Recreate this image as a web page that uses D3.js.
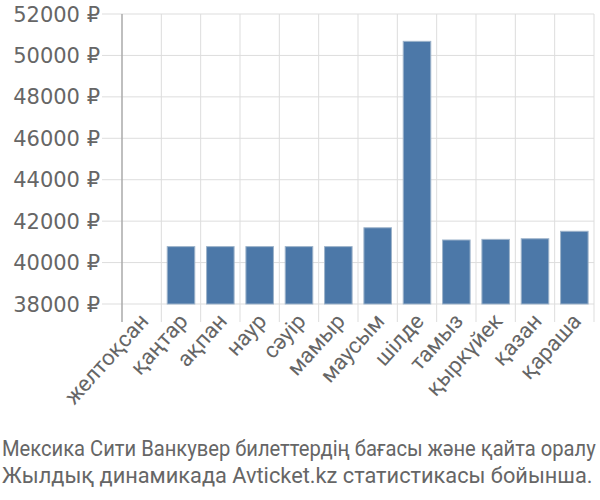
<!DOCTYPE html>
<html><head><meta charset="utf-8">
<script src="https://cdn.jsdelivr.net/npm/d3@7"></script>
<style>body{margin:0;background:#fff}svg{display:block}text{font-family:Roboto,sans-serif}</style>
</head><body><svg id="c" width="600" height="500"></svg>
<script>
const categories = ["желтоқсан","қаңтар","ақпан","наур","сәуір","мамыр","маусым","шілде","тамыз","қыркүйек","қазан","қараша"];
const values = [38000,40770,40770,40770,40770,40770,41680,50680,41090,41120,41150,41510];
const yTicks = [38000,40000,42000,44000,46000,48000,50000,52000];
const titleLines = ["Мексика Сити Ванкувер билеттердің бағасы және қайта оралу","Жылдық динамикада Avticket.kz статистикасы бойынша."];

const svg = d3.select("#c");
const m = {l:122, r:594, t:14, b:304};
const x = d3.scaleBand().domain(categories).range([m.l, m.r]).paddingInner(0.3).paddingOuter(0.15);
const xg = d3.scaleBand().domain(categories).range([m.l, m.r]);
const y = d3.scaleLinear().domain([38000,52000]).range([m.b, m.t]);
const grey = "#666";

svg.append("g").selectAll("line").data(yTicks).join("line")
  .attr("x1", m.l-20).attr("x2", m.r).attr("y1", d=>y(d)).attr("y2", d=>y(d))
  .attr("stroke","#ddd").attr("stroke-width",1);
svg.append("g").selectAll("line").data(categories).join("line")
  .attr("x1", d=>xg(d)+xg.step()).attr("x2", d=>xg(d)+xg.step())
  .attr("y1", m.t).attr("y2", m.b+18).attr("stroke","#ddd");
svg.append("line").attr("x1",m.l).attr("x2",m.l).attr("y1",m.t).attr("y2",m.b+18).attr("stroke","#aaa").attr("stroke-width",1.5);

svg.append("g").selectAll("rect").data(values).join("rect")
  .attr("x",(d,i)=>x(categories[i])).attr("width",x.bandwidth())
  .attr("y",d=>y(d)).attr("height",d=>y(38000)-y(d))
  .attr("fill","#4c78a8").attr("stroke","#9db3ca").attr("stroke-width",1);

svg.append("g").selectAll("text").data(yTicks).join("text")
  .attr("x", m.l-22).attr("y", d=>y(d)).attr("dy","0.36em").attr("text-anchor","end")
  .attr("fill",grey).style("font-family","'DejaVu Sans'").style("font-size","21px").text(d=>d+" ₽");

svg.append("g").selectAll("text").data(categories).join("text")
  .attr("transform", d=>`translate(${xg(d)+xg.bandwidth()/2+8},${m.b+18}) rotate(-48)`)
  .attr("text-anchor","end").attr("fill",grey)
  .style("font-family","Roboto").style("font-size","22px").text(d=>d);

const titleWidths = [594, 591];
const tt = svg.append("g").selectAll("text").data(titleLines).join("text")
  .attr("x",0).attr("y",0).attr("fill",grey)
  .style("font-family","Roboto").style("font-size","22px").text(d=>d);
tt.each(function(d,i){
  const w = this.getComputedTextLength();
  d3.select(this).attr("transform", `translate(2,${456+i*27}) scale(${titleWidths[i]/w},1)`);
});
</script></body></html>
